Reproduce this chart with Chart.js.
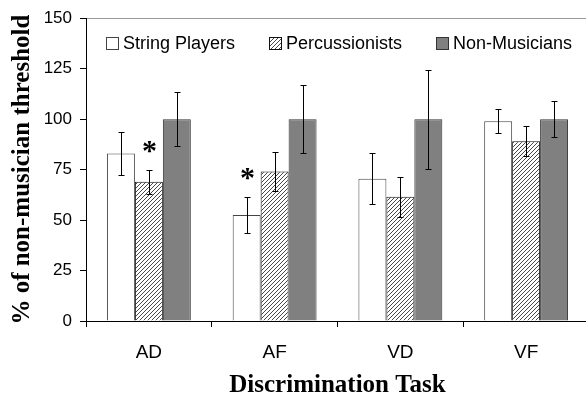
<!DOCTYPE html>
<html>
<head>
<meta charset="utf-8">
<script src="https://cdn.jsdelivr.net/npm/chart.js@4"></script>
<style>
  html, body { margin: 0; padding: 0; background: #fff; overflow: hidden; }
</style>
</head>
<body>
<canvas id="chart" width="590" height="398"></canvas>
<script>
const categories = ['AD', 'AF', 'VD', 'VF']
const groupNames = ['String Players', 'Percussionists', 'Non-Musicians']

const stringPlayers = [83, 52.5, 70.5, 99]
const percussionists = [69, 74, 61.5, 89]
const nonMusicians = [100, 100, 100, 100]

const stringErr = [10.5, 9, 12.5, 6]
const percErr = [6, 9.5, 10, 7.5]
const nonErr = [13.5, 17, 24.5, 9]

// which bars get an asterisk (significant vs non-musicians)
const stringStar = [false, true, false, false]
const percStar = [true, false, false, false]

const yTicks = [0, 25, 50, 75, 100, 125, 150]

function hatchPattern() {
  const c = document.createElement('canvas')
  c.width = 4
  c.height = 4
  const g = c.getContext('2d')
  g.fillStyle = '#fff'
  g.fillRect(0, 0, 4, 4)
  g.strokeStyle = '#333'
  g.lineWidth = 0.9
  g.beginPath()
  g.moveTo(0, 4); g.lineTo(4, 0)
  g.moveTo(-1, 1); g.lineTo(1, -1)
  g.moveTo(3, 5); g.lineTo(5, 3)
  g.stroke()
  return g.createPattern(c, 'repeat')
}

const hatch = hatchPattern()

const errorBars = {
  id: 'errorBars',
  afterDatasetsDraw(chart) {
    const ctx = chart.ctx
    const y = chart.scales.y
    ctx.save()
    ctx.strokeStyle = '#000'
    ctx.lineWidth = 1
    chart.data.datasets.forEach((ds, i) => {
      const meta = chart.getDatasetMeta(i)
      meta.data.forEach((bar, j) => {
        const v = ds.data[j], e = ds.errors[j]
        const x = Math.round(bar.x) + 0.5
        const top = Math.round(y.getPixelForValue(v + e)) + 0.5
        const bot = Math.round(y.getPixelForValue(v - e)) + 0.5
        ctx.beginPath()
        ctx.moveTo(x, top); ctx.lineTo(x, bot)
        ctx.moveTo(x - 3, top); ctx.lineTo(x + 3, top)
        ctx.moveTo(x - 3, bot); ctx.lineTo(x + 3, bot)
        ctx.stroke()
        if (ds.stars[j]) {
          ctx.fillStyle = '#000'
          ctx.font = 'bold 30px "Liberation Serif"'
          ctx.textAlign = 'center'
          ctx.textBaseline = 'middle'
          ctx.fillText('*', x, top - 18)
        }
      })
    })
    ctx.restore()
  }
}

const boxLegend = {
  id: 'boxLegend',
  afterDraw(chart) {
    const ctx = chart.ctx
    const starts = [106, 269, 436]
    const cy = 43
    ctx.save()
    ctx.font = '18px "Liberation Sans"'
    ctx.textBaseline = 'middle'
    ctx.textAlign = 'left'
    chart.data.datasets.forEach((ds, i) => {
      const x = starts[i]
      ctx.fillStyle = ds.backgroundColor
      ctx.fillRect(x, cy - 6, 12, 12)
      ctx.strokeStyle = ds.borderColor
      ctx.lineWidth = 1
      ctx.strokeRect(x + 0.5, cy - 5.5, 12, 12)
      ctx.fillStyle = '#000'
      ctx.fillText(ds.label, x + 17, cy + 1)
    })
    ctx.restore()
  }
}

new Chart(document.getElementById('chart'), {
  type: 'bar',
  data: {
    labels: categories,
    datasets: [
      { label: groupNames[0], data: stringPlayers, errors: stringErr, stars: stringStar,
        backgroundColor: '#fff', borderColor: '#444', borderWidth: 1 },
      { label: groupNames[1], data: percussionists, errors: percErr, stars: percStar,
        backgroundColor: hatch, borderColor: '#111', borderWidth: 1 },
      { label: groupNames[2], data: nonMusicians, errors: nonErr, stars: [false, false, false, false],
        backgroundColor: '#808080', borderColor: '#333', borderWidth: 1 }
    ]
  },
  options: {
    responsive: false,
    animation: false,
    categoryPercentage: 0.667,
    barPercentage: 1.0,
    layout: { padding: { top: 16, right: 1, left: 0, bottom: 0 } },
    plugins: {
      legend: { display: false },
      tooltip: { enabled: false }
    },
    scales: {
      x: {
        afterFit: (s) => { s.height = 77 },
        grid: { color: 'rgba(0,0,0,0)', tickColor: '#000', tickLength: 6, offset: true },
        border: { color: '#000' },
        ticks: { color: '#000', font: { family: 'Liberation Sans', size: 19 }, padding: 14 },
        title: {
          display: true, text: 'Discrimination Task', color: '#000',
          font: { family: 'Liberation Serif', size: 25, weight: 'bold', lineHeight: 1 },
          padding: { top: 0, bottom: 0 }
        }
      },
      y: {
        min: 0, max: 150,
        afterFit: (s) => { s.width = 86 },
        afterBuildTicks: (s) => { s.ticks = yTicks.map(v => ({ value: v })) },
        grid: {
          color: (c) => c.tick && c.tick.value === 150 ? '#999' : 'rgba(0,0,0,0)',
          tickColor: '#000', tickLength: 6
        },
        border: { color: '#000' },
        ticks: { color: '#000', font: { family: 'Liberation Sans', size: 17 }, padding: 8 },
        title: {
          display: true, text: '% of non-musician threshold', color: '#000',
          font: { family: 'Liberation Serif', size: 25, weight: 'bold', lineHeight: 1 },
          padding: { top: 10, bottom: 0 }
        }
      }
    }
  },
  plugins: [errorBars, boxLegend]
})
</script>
</body>
</html>
